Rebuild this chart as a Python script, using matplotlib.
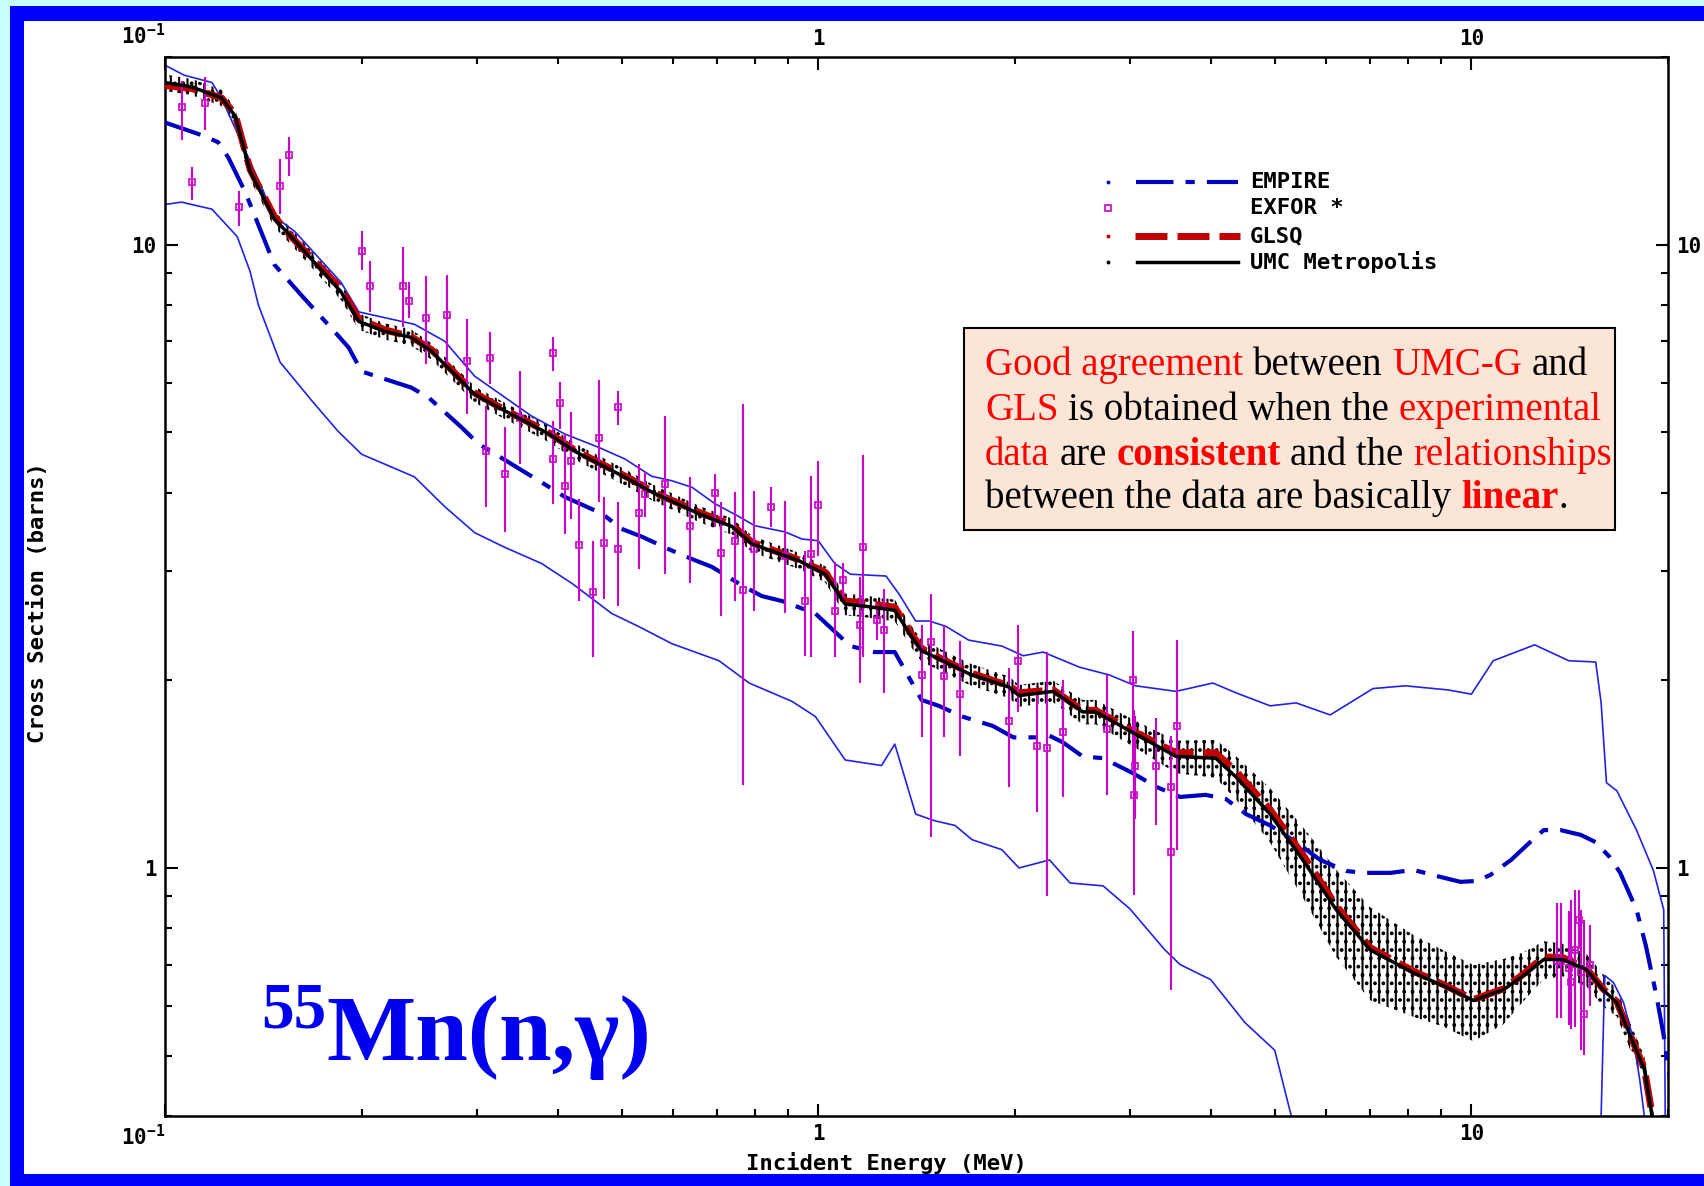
import numpy as np
import matplotlib
matplotlib.use('Agg')
import matplotlib.pyplot as plt
from matplotlib.patches import Rectangle
from matplotlib.lines import Line2D
from matplotlib.font_manager import FontProperties
from matplotlib.ticker import FixedLocator, FixedFormatter, LogLocator, NullFormatter

# UMC Metropolis evaluation (MeV, barns) and its relative uncertainty
umc_e = [0.100, 0.110, 0.122, 0.128, 0.135, 0.147, 0.156, 0.186, 0.198, 0.217, 0.238, 0.256,
         0.298, 0.324, 0.387, 0.424, 0.518, 0.556, 0.657, 0.738, 0.792, 0.935, 1.025, 1.10,
         1.18, 1.31, 1.39, 1.44, 1.51, 1.70, 1.96, 2.03, 2.29, 2.54, 2.66, 3.06, 3.53, 4.06,
         4.36, 4.92, 5.52, 6.21, 7.0, 8.15, 9.06, 10.07, 11.2, 12.0, 12.9, 13.8, 15.0, 15.9,
         16.7, 17.5, 18.4, 18.9, 19.2]
umc_y = [18.2, 17.9, 17.2, 16.1, 13.1, 11.0, 10.3, 8.4, 7.53, 7.26, 7.10, 6.74,
         5.75, 5.48, 4.97, 4.66, 4.18, 4.01, 3.70, 3.53, 3.31, 3.11, 2.96, 2.65,
         2.63, 2.59, 2.35, 2.23, 2.18, 2.05, 1.95, 1.89, 1.92, 1.78, 1.78, 1.64, 1.51, 1.50,
         1.40, 1.22, 1.03, 0.857, 0.739, 0.679, 0.647, 0.613, 0.638, 0.671, 0.713, 0.713, 0.687, 0.638,
         0.608, 0.538, 0.475, 0.401, 0.36]
umc_err = [0.03, 0.03, 0.03, 0.03, 0.03, 0.03, 0.03, 0.03, 0.03, 0.03, 0.03, 0.03,
           0.03, 0.03, 0.03, 0.03, 0.03, 0.03, 0.03, 0.03, 0.03, 0.03, 0.03, 0.04,
           0.04, 0.04, 0.04, 0.04, 0.04, 0.04, 0.04, 0.04, 0.04, 0.045, 0.045, 0.05, 0.06, 0.07,
           0.08, 0.10, 0.13, 0.16, 0.17, 0.15, 0.14, 0.14, 0.12, 0.09, 0.07, 0.06, 0.06, 0.06,
           0.05, 0.05, 0.05, 0.05, 0.05]

# GLSQ evaluation
glsq_e = umc_e
glsq_y = [18.0, 17.8, 17.2, 16.2, 13.2, 11.1, 10.3, 8.5, 7.6, 7.3, 7.12, 6.78,
          5.78, 5.50, 4.99, 4.68, 4.20, 4.02, 3.72, 3.55, 3.33, 3.12, 2.98, 2.68,
          2.66, 2.62, 2.37, 2.25, 2.19, 2.06, 1.96, 1.91, 1.93, 1.79, 1.79, 1.65, 1.53, 1.53,
          1.43, 1.24, 1.05, 0.87, 0.745, 0.683, 0.650, 0.615, 0.640, 0.675, 0.720, 0.718, 0.690, 0.640,
          0.610, 0.540, 0.477, 0.403, 0.36]

# EMPIRE calculation
empire_e = [0.100, 0.1135, 0.1206, 0.125, 0.1324, 0.1355, 0.147, 0.163, 0.1816, 0.191, 0.200,
            0.222, 0.238, 0.253, 0.284, 0.302, 0.324, 0.364, 0.391, 0.409, 0.467, 0.50, 0.537,
            0.597, 0.641, 0.688, 0.764, 0.82, 0.881, 0.99, 1.04, 1.12, 1.22, 1.31, 1.36, 1.44,
            1.53, 1.66, 1.85, 1.99, 2.15, 2.26, 2.37, 2.54, 2.73, 3.03, 3.29, 3.58, 3.92, 4.21,
            4.52, 4.92, 5.39, 5.87, 6.43, 6.83, 7.52, 8.15, 8.84, 9.62, 10.2, 10.7, 11.5, 12.3,
            12.9, 13.7, 14.7, 15.5, 16.3, 16.9, 17.9, 18.5, 19.2, 19.7, 20.2]
empire_y = [15.7, 15.0, 14.6, 13.8, 12.2, 11.5, 9.29, 8.22, 7.26, 6.84, 6.26,
            6.04, 5.9, 5.69, 5.1, 4.79, 4.58, 4.25, 4.06, 3.94, 3.70, 3.50, 3.40,
            3.23, 3.13, 3.04, 2.84, 2.73, 2.68, 2.56, 2.44, 2.27, 2.22, 2.22, 2.07, 1.86,
            1.82, 1.75, 1.69, 1.62, 1.62, 1.63, 1.59, 1.51, 1.50, 1.42, 1.35, 1.30, 1.31, 1.29,
            1.22, 1.17, 1.10, 1.03, 0.989, 0.982, 0.982, 0.993, 0.971, 0.95, 0.953, 0.975, 1.03, 1.10,
            1.15, 1.15, 1.13, 1.10, 1.04, 0.982, 0.857, 0.75, 0.624, 0.538, 0.448]

# EMPIRE upper / lower bounds (thin blue lines)
upper_e = [0.100, 0.107, 0.118, 0.122, 0.135, 0.147, 0.158, 0.186, 0.198, 0.241, 0.268, 0.298,
           0.364, 0.409, 0.461, 0.506, 0.556, 0.597, 0.641, 0.695, 0.757, 0.80, 0.89, 0.945,
           1.0, 1.06, 1.12, 1.27, 1.33, 1.41, 1.48, 1.57, 1.70, 1.91, 2.06, 2.21, 2.51, 2.79,
           3.06, 3.53, 4.02, 4.36, 4.92, 5.39, 6.08, 7.07, 7.92, 9.22, 10.0, 10.8, 12.5, 14.1,
           15.5, 15.8, 16.1, 16.7, 17.9, 19.0, 19.7, 20.0]
upper_y = [19.4, 18.7, 18.2, 17.2, 13.6, 11.1, 10.5, 8.7, 7.8, 7.45, 7.0, 6.15,
           5.31, 4.97, 4.73, 4.53, 4.25, 4.18, 4.08, 3.84, 3.66, 3.54, 3.46, 3.37,
           3.35, 3.08, 2.96, 2.94, 2.75, 2.49, 2.49, 2.44, 2.32, 2.27, 2.19, 2.22, 2.10, 2.04,
           1.96, 1.92, 1.98, 1.91, 1.82, 1.84, 1.76, 1.94, 1.96, 1.93, 1.90, 2.15, 2.28, 2.15,
           2.14, 1.84, 1.37, 1.33, 1.15, 0.99, 0.857, 0.1]
lower_e = [0.100, 0.106, 0.118, 0.129, 0.135, 0.139, 0.150, 0.168, 0.184, 0.200, 0.241, 0.268,
           0.298, 0.331, 0.377, 0.42, 0.483, 0.531, 0.597, 0.705, 0.784, 0.912, 0.99, 1.10,
           1.25, 1.31, 1.41, 1.51, 1.62, 1.72, 1.91, 2.03, 2.26, 2.43, 2.73, 3.0, 3.39, 3.58,
           3.99, 4.5, 5.0, 5.3, 5.5, 15.6, 15.8, 16.0, 16.5, 17.1, 17.7, 18.1, 18.4, 18.6]
lower_y = [11.6, 11.7, 11.4, 10.3, 9.05, 8.0, 6.48, 5.61, 5.02, 4.61, 4.24, 3.80,
           3.45, 3.27, 3.08, 2.86, 2.56, 2.44, 2.29, 2.15, 1.98, 1.85, 1.75, 1.49,
           1.46, 1.58, 1.22, 1.19, 1.17, 1.11, 1.07, 1.0, 1.03, 0.946, 0.936, 0.86, 0.74, 0.70,
           0.662, 0.565, 0.51, 0.40, 0.1, 0.1, 0.40, 0.672, 0.655, 0.608, 0.531, 0.458, 0.40, 0.1]

# EXFOR experimental points: energy, value, lower and upper end of the error bar
exfor_e = [0.106, 0.115, 0.110, 0.130, 0.150, 0.155, 0.200, 0.206, 0.231, 0.236, 0.251, 0.270,
           0.290, 0.315, 0.310, 0.331, 0.350, 0.392, 0.392, 0.402, 0.410, 0.418, 0.430, 0.452,
           0.461, 0.470, 0.494, 0.494, 0.531, 0.543, 0.582, 0.637, 0.695, 0.71, 0.746, 0.767,
           0.798, 0.847, 0.89, 0.955, 0.976, 1.0, 1.06, 1.09, 1.16, 1.17, 1.23, 1.26,
           1.44, 1.49, 1.56, 1.65, 1.96, 2.02, 2.16, 2.24, 2.37, 2.77, 3.03, 3.04, 3.05, 3.29,
           3.47, 3.47, 3.54, 13.5, 13.7, 14.1, 14.2, 14.4, 14.6, 14.7, 14.9, 15.2]
exfor_y = [16.6, 16.9, 12.6, 11.5, 12.4, 13.9, 9.78, 8.57, 8.57, 8.13, 7.64, 7.7,
           6.5, 6.59, 4.66, 4.28, 5.28, 6.69, 4.53, 5.57, 4.1, 4.5, 3.3, 2.77,
           4.89, 3.32, 5.48, 3.25, 3.71, 3.98, 4.13, 3.54, 4.0, 3.2, 3.35, 2.79,
           3.25, 3.8, 3.16, 2.68, 3.19, 3.82, 2.58, 2.9, 2.45, 3.27, 2.5, 2.41,
           2.04, 2.3, 2.03, 1.9, 1.72, 2.15, 1.57, 1.56, 1.65, 1.67, 2.0, 1.31, 1.46, 1.46,
           1.06, 1.35, 1.69, 0.71, 0.71, 0.69, 0.655, 0.739, 0.826, 0.68, 0.582, 0.70]
exfor_lo = [14.7, 15.3, 11.8, 10.7, 11.2, 12.9, 9.1, 7.8, 7.37, 7.64, 6.43, 6.43,
            5.35, 5.97, 3.8, 3.46, 4.45, 6.26, 3.84, 5.06, 3.44, 3.63, 2.68, 2.18,
            3.87, 2.7, 5.13, 2.63, 3.02, 3.66, 2.96, 2.86, 3.53, 2.54, 2.68, 1.36,
            2.58, 3.53, 2.56, 2.19, 2.18, 3.16, 2.18, 2.7, 1.98, 2.18, 2.32, 1.91,
            1.62, 1.12, 1.62, 1.51, 1.35, 1.78, 1.23, 0.902, 1.30, 1.31, 1.48, 0.905, 1.2, 1.17,
            0.638, 1.1, 1.07, 0.575, 0.575, 0.56, 0.551, 0.555, 0.74, 0.51, 0.502, 0.6]
exfor_hi = [18.3, 18.6, 13.3, 12.2, 13.7, 14.9, 10.5, 9.4, 9.93, 8.7, 8.89, 8.95,
            7.59, 7.23, 5.5, 5.1, 6.26, 7.1, 5.21, 6.02, 4.97, 5.38, 3.91, 3.35,
            6.06, 3.94, 5.82, 3.87, 4.45, 4.32, 5.31, 4.24, 4.29, 3.87, 4.01, 5.55,
            4.03, 4.08, 3.88, 3.22, 4.25, 4.5, 3.1, 3.08, 2.93, 4.6, 2.65, 2.8,
            2.45, 2.75, 2.45, 2.31, 2.09, 2.45, 1.91, 2.22, 2.0, 2.04, 2.4, 1.79, 1.75, 1.74,
            1.63, 1.6, 2.32, 0.879, 0.879, 0.853, 0.889, 0.922, 0.922, 0.857, 0.826, 0.81]

x_ticks = [0.1, 1, 10]
x_tick_labels = [r'$10^{-1}$', '1', '10']
y_ticks = [1, 10]
y_tick_labels = ['1', '10']

W, H = 1704, 1186
MONO = 'DejaVu Sans Mono'
SERIF = 'Liberation Serif'
EMPIRE_C = '#0000C0'
GLSQ_C = '#C00000'
EXFOR_C = '#CC00CC'
THIN_C = '#2222E6'

plt.rcParams['font.family'] = MONO
plt.rcParams['font.weight'] = 'bold'
plt.rcParams['mathtext.fontset'] = 'custom'
plt.rcParams['mathtext.rm'] = MONO + ':bold'
plt.rcParams['mathtext.it'] = MONO + ':bold'
plt.rcParams['mathtext.bf'] = MONO + ':bold'
plt.rcParams['hatch.linewidth'] = 1.5


def fx(px):
    return px / W


def fy(py):
    return 1 - py / H


fig = plt.figure(figsize=(W / 100, H / 100), dpi=100, facecolor='#C8FFFF')

# blue slide frame with white inside
fig.add_artist(Rectangle((fx(10), 0), 1, fy(6), transform=fig.transFigure,
                         facecolor='#0000FF', edgecolor='none', zorder=-2))
fig.add_artist(Rectangle((fx(24), fy(1174)), 1, fy(21) - fy(1174), transform=fig.transFigure,
                         facecolor='white', edgecolor='none', zorder=-1))

ax = fig.add_axes([fx(165), fy(1116), fx(1668) - fx(165), fy(57) - fy(1116)])
ax.set_xscale('log')
ax.set_yscale('log')

'''Uncertainty band of the UMC curve, drawn as vertical hatching.'''
umc_arr = np.array(umc_y)
err_arr = np.array(umc_err)
ax.fill_between(umc_e, umc_arr * (1 - err_arr), umc_arr * (1 + err_arr), facecolor='none',
                edgecolor='black', hatch='||..', linewidth=0, zorder=1)

ax.plot(upper_e, upper_y, color=THIN_C, lw=1.2, zorder=2)
ax.plot(lower_e, lower_y, color=THIN_C, lw=1.2, zorder=2)
ax.plot(empire_e, empire_y, color=EMPIRE_C, lw=3, dashes=(9, 2.9, 2.2, 2.9), zorder=3)
ax.plot(glsq_e, glsq_y, color=GLSQ_C, lw=5, dashes=(4.6, 1.45), zorder=4)

ex_y = np.array(exfor_y)
ax.errorbar(exfor_e, ex_y, yerr=[ex_y - np.array(exfor_lo), np.array(exfor_hi) - ex_y],
            fmt='s', ms=4.5, mfc='none', mec=EXFOR_C, mew=1.2, ecolor=EXFOR_C,
            elinewidth=1.5, capsize=0, zorder=5)

ax.plot(umc_e, umc_y, color='black', lw=2.5, zorder=6)

ax.set_xlim(0.1, 20)
ax.set_ylim(0.4, 20)

ax.xaxis.set_major_locator(FixedLocator(x_ticks))
ax.xaxis.set_major_formatter(FixedFormatter(x_tick_labels))
ax.xaxis.set_minor_locator(LogLocator(base=10, subs=np.arange(2, 10), numticks=20))
ax.xaxis.set_minor_formatter(NullFormatter())
ax.yaxis.set_major_locator(FixedLocator(y_ticks))
ax.yaxis.set_major_formatter(FixedFormatter(y_tick_labels))
ax.yaxis.set_minor_locator(LogLocator(base=10, subs=np.arange(2, 10), numticks=20))
ax.yaxis.set_minor_formatter(NullFormatter())
ax.tick_params(which='both', direction='in', top=True, right=True, labeltop=True,
               labelright=True, width=1.5, labelsize=15, pad=6)
ax.tick_params(which='major', length=9)
ax.tick_params(which='minor', length=5)
for sp in ax.spines.values():
    sp.set_linewidth(1.8)

first = ax.xaxis.get_major_ticks()[0]
first.label1.set_horizontalalignment('right')
first.label2.set_horizontalalignment('right')

fig.text(fx(886), fy(1163), 'Incident Energy (MeV)', ha='center', va='center', fontsize=16)
fig.text(fx(38), fy(603), 'Cross Section (barns)', ha='center', va='center', fontsize=16,
         rotation=90)

'''Legend, drawn by hand to follow the original layout.'''
legend_rows = [('EMPIRE', 182, EMPIRE_C), ('EXFOR *', 208, EXFOR_C),
               ('GLSQ', 236, GLSQ_C), ('UMC Metropolis', 262, 'black')]
for name, row_y, col in legend_rows:
    if name == 'EXFOR *':
        fig.add_artist(Line2D([fx(1108)], [fy(row_y)], marker='s', ms=4.5, mfc='none',
                              mec=col, mew=1.2, linestyle='none'))
    else:
        fig.add_artist(Line2D([fx(1108)], [fy(row_y)], marker='o', ms=1.8, color=col,
                              linestyle='none'))
    if name == 'EMPIRE':
        fig.add_artist(Line2D([fx(1136), fx(1238)], [fy(row_y)] * 2, color=col, lw=3,
                              dashes=(9, 2.9, 2.2, 2.9)))
    elif name == 'GLSQ':
        fig.add_artist(Line2D([fx(1135), fx(1240)], [fy(row_y)] * 2, color=col, lw=5,
                              dashes=(4.6, 1.45)))
    elif name == 'UMC Metropolis':
        fig.add_artist(Line2D([fx(1137), fx(1238)], [fy(row_y)] * 2, color=col, lw=2.5))
    fig.text(fx(1250), fy(row_y), name, ha='left', va='center', fontsize=16)

'''Comment box with coloured words.'''
fig.add_artist(Rectangle((fx(964), fy(530)), fx(1615) - fx(964), fy(328) - fy(530),
                         transform=fig.transFigure, facecolor='#FBE5D6', edgecolor='black',
                         lw=1.5, zorder=5))

renderer = fig.canvas.get_renderer()
RED = '#FF0000'


def advance(s, prop):
    w_all = renderer.get_text_width_height_descent('x' + s + 'x', prop, ismath=False)[0]
    w_xx = renderer.get_text_width_height_descent('xx', prop, ismath=False)[0]
    return w_all - w_xx


def rich_line(x0, base_y, parts):
    x = x0
    for s, col, weight in parts:
        prop = FontProperties(family=SERIF, size=28, weight=weight)
        lead = len(s) - len(s.lstrip(' '))
        x_draw = x + advance(' ' * lead, prop) if lead else x
        fig.text(fx(x_draw), fy(base_y), s.strip(' '), color=col, fontproperties=prop,
                 ha='left', va='baseline', zorder=6)
        x += advance(s, prop)


box_lines = [
    (375, [('Good agreement', RED, 'normal'), (' between ', 'black', 'normal'),
           ('UMC-G', RED, 'normal'), (' and', 'black', 'normal')]),
    (420, [('GLS', RED, 'normal'), (' is obtained when the ', 'black', 'normal'),
           ('experimental', RED, 'normal')]),
    (465, [('data', RED, 'normal'), (' are ', 'black', 'normal'), ('consistent', RED, 'bold'),
           (' and the ', 'black', 'normal'), ('relationships', RED, 'normal')]),
    (508, [('between the data are basically ', 'black', 'normal'), ('linear', RED, 'bold'),
           ('.', 'black', 'normal')]),
]
for base_y, parts in box_lines:
    rich_line(985, base_y, parts)

# reaction label
TITLE_C = '#0000F0'
fig.text(fx(261), fy(1027), '55', color=TITLE_C, fontsize=47, family=SERIF, weight='bold',
         ha='left', va='baseline')
fig.text(fx(326), fy(1060), 'Mn(n,γ)', color=TITLE_C, fontsize=68, family=SERIF, weight='bold',
         ha='left', va='baseline')

fig.savefig('out.png', dpi=100, facecolor=fig.get_facecolor())
